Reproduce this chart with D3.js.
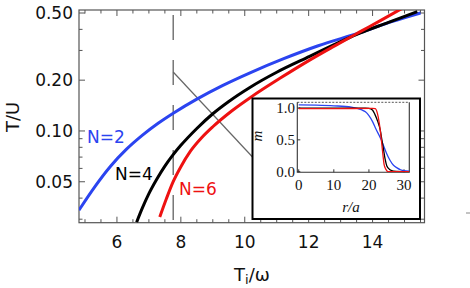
<!DOCTYPE html>
<html><head><meta charset="utf-8">
<script src="https://cdn.jsdelivr.net/npm/d3@7"></script>
<style>body{margin:0;background:#fff}svg{display:block}</style>
</head><body>
<script>
// ---- Main panel data: T/U versus Ti/omega ----
const tiN2 = [4.81, 5.3, 5.8, 6.3, 6.8, 7.3, 7.8, 8.5, 9.3, 10.2, 11.2, 12.3, 13.6, 14.6, 15.5];
const tuN2 = [0.0339, 0.0465, 0.0618, 0.0780, 0.0945, 0.1115, 0.1288, 0.1545, 0.1858, 0.2228, 0.2673, 0.3199, 0.382, 0.4446, 0.500];
const tiN4 = [6.616, 6.8, 7.0, 7.25, 7.5, 7.76, 8.0, 8.5, 9.0, 9.5, 10.16, 11.0, 12.03, 13.0, 13.6, 14.5, 15.4];
const tuN4 = [0.0288, 0.0351, 0.0425, 0.0519, 0.0619, 0.0724, 0.0822, 0.1035, 0.1265, 0.1496, 0.1811, 0.2228, 0.2767, 0.338, 0.380, 0.440, 0.510];
const tiN6 = [7.34, 7.55, 7.76, 8.0, 8.3, 8.65, 9.0, 9.6, 10.25, 11.1, 12.03, 12.8, 13.6, 14.3, 14.94];
const tuN6 = [0.0309, 0.0398, 0.0501, 0.0614, 0.0759, 0.0912, 0.1059, 0.1318, 0.1614, 0.2051, 0.2630, 0.3184, 0.3864, 0.4571, 0.5346];
const xMajor = [6, 8, 10, 12, 14];
const yMajor = [0.05, 0.10, 0.20, 0.50];
const yMinor = [0.03, 0.04, 0.06, 0.07, 0.08, 0.09, 0.3, 0.4];
const yLabels = ["0.05", "0.10", "0.20", "0.50"];
const markTi = 7.76;
// ---- Inset data: m versus r/a ----
const rN2 = [0, 5, 10, 15, 18, 19, 20, 21, 22, 23, 23.5, 24, 25, 26, 27, 28, 29, 30, 31.5];
const mN2 = [1.05, 1.045, 1.035, 1.015, 0.97, 0.94, 0.88, 0.79, 0.67, 0.56, 0.50, 0.43, 0.29, 0.18, 0.10, 0.06, 0.03, 0.015, 0.01];
const rN4 = [0, 10, 19, 20, 21, 21.7, 22.5, 23.2, 23.7, 24.1, 24.6, 25.1, 26, 27, 31.5];
const mN4 = [1.0, 1.0, 1.0, 0.995, 0.97, 0.9, 0.79, 0.66, 0.5, 0.37, 0.2, 0.09, 0.03, 0.01, 0.0];
const rN6 = [0, 10, 21, 21.8, 22.4, 22.9, 23.3, 23.6, 24.0, 24.3, 24.8, 25.5, 31.5];
const mN6 = [0.99, 0.99, 0.995, 0.99, 0.92, 0.78, 0.62, 0.47, 0.26, 0.12, 0.04, 0.0, 0.0];
const insetXTicks = [0, 10, 20, 30];
const insetYTicks = [0, 0.5, 1.0];
const insetYLabels = ["0.0", "0.5", "1.0"];

const W = 470, H = 288;
const svg = d3.select("body").append("svg").attr("width", W).attr("height", H);
svg.append("rect").attr("width", W).attr("height", H).attr("fill", "#fff");

const L = 79, R = 424.5, T = 10, B = 222.7;
const x = d3.scaleLinear().domain([4.8125, 15.625]).range([L, R]);
const y = d3.scaleLog().domain([0.0286, 0.521]).range([B, T]);
const axisCol = "#555";
const sans = "DejaVu Sans";

// clip
svg.append("clipPath").attr("id", "mclip").append("rect")
  .attr("x", L).attr("y", T).attr("width", R - L).attr("height", B - T);

// frame
svg.append("rect").attr("x", L).attr("y", T).attr("width", R - L).attr("height", B - T)
  .attr("fill", "none").attr("stroke", axisCol).attr("stroke-width", 1.2);

const tickG = svg.append("g").attr("stroke", axisCol).attr("stroke-width", 1);
const xMinor = d3.range(5, 15.6, 0.5).filter(v => !xMajor.includes(v));
xMajor.forEach(v => {
  tickG.append("line").attr("x1", x(v)).attr("x2", x(v)).attr("y1", B).attr("y2", B - 6);
  tickG.append("line").attr("x1", x(v)).attr("x2", x(v)).attr("y1", T).attr("y2", T + 6);
});
xMinor.forEach(v => {
  tickG.append("line").attr("x1", x(v)).attr("x2", x(v)).attr("y1", B).attr("y2", B - 3.5);
  tickG.append("line").attr("x1", x(v)).attr("x2", x(v)).attr("y1", T).attr("y2", T + 3.5);
});
yMajor.forEach(v => {
  tickG.append("line").attr("x1", L).attr("x2", L + 6).attr("y1", y(v)).attr("y2", y(v));
  tickG.append("line").attr("x1", R).attr("x2", R - 6).attr("y1", y(v)).attr("y2", y(v));
});
yMinor.forEach(v => {
  tickG.append("line").attr("x1", L).attr("x2", L + 3.5).attr("y1", y(v)).attr("y2", y(v));
  tickG.append("line").attr("x1", R).attr("x2", R - 3.5).attr("y1", y(v)).attr("y2", y(v));
});

// tick labels
svg.append("g").selectAll("text").data(xMajor).join("text")
  .attr("x", d => x(d)).attr("y", 248).attr("text-anchor", "middle")
  .attr("font-family", sans).attr("font-size", 17).attr("fill", "#111").text(d => d);
svg.append("g").selectAll("text").data(yMajor).join("text")
  .attr("x", 73).attr("y", d => y(d)).attr("dy", "0.36em").attr("text-anchor", "end")
  .attr("font-family", sans).attr("font-size", 17).attr("fill", "#111").text((d, i) => yLabels[i]);

// axis titles
const xt = svg.append("text").attr("x", 252).attr("y", 281).attr("text-anchor", "middle")
  .attr("font-family", sans).attr("font-size", 18).attr("fill", "#111");
xt.append("tspan").text("T");
xt.append("tspan").attr("font-size", 13).attr("dy", 3).text("i");
xt.append("tspan").attr("dy", -3).text("/ω");
svg.append("text").attr("transform", "translate(19,117) rotate(-90)").attr("text-anchor", "middle")
  .attr("font-family", sans).attr("font-size", 18).attr("fill", "#111").text("T/U");

// dashed marker line and connector
svg.append("line").attr("x1", x(markTi)).attr("x2", x(markTi)).attr("y1", 15).attr("y2", B)
  .attr("stroke", "#555").attr("stroke-width", 1.2).attr("stroke-dasharray", "25,20");
svg.append("line").attr("x1", x(markTi)).attr("y1", 72).attr("x2", 252.5).attr("y2", 157)
  .attr("stroke", "#666").attr("stroke-width", 1.2);

// curves
const mainLine = d3.line().x(d => x(d[0])).y(d => y(d[1])).curve(d3.curveMonotoneX);
const cg = svg.append("g").attr("clip-path", "url(#mclip)");
const series = [
  {ti: tiN2, tu: tuN2, c: "#2b44f0"},
  {ti: tiN4, tu: tuN4, c: "#000"},
  {ti: tiN6, tu: tuN6, c: "#ee1111"}
];
series.forEach(s => {
  cg.append("path").datum(s.ti.map((v, i) => [v, s.tu[i]])).attr("d", mainLine)
    .attr("fill", "none").attr("stroke", s.c).attr("stroke-width", 3);
});

// series labels
svg.append("text").attr("x", 87).attr("y", 143).attr("font-family", sans).attr("font-size", 17)
  .attr("fill", "#2b44f0").text("N=2");
svg.append("text").attr("x", 115).attr("y", 180).attr("font-family", sans).attr("font-size", 17)
  .attr("fill", "#000").text("N=4");
svg.append("text").attr("x", 179).attr("y", 195).attr("font-family", sans).attr("font-size", 17)
  .attr("fill", "#ee1111").text("N=6");

// ---- inset ----
svg.append("rect").attr("x", 252.5).attr("y", 98.5).attr("width", 167.5).attr("height", 120.5)
  .attr("fill", "#fff").attr("stroke", "#000").attr("stroke-width", 2);
const iL = 297.3, iR = 409.3, iT = 102.3, iB = 172.3;
const ix = d3.scaleLinear().domain([-0.4, 31.5]).range([iL, iR]);
const iy = d3.scaleLinear().domain([-0.01, 1.09]).range([iB, iT]);
const serif = "Liberation Serif";
svg.append("clipPath").attr("id", "iclip").append("rect")
  .attr("x", iL).attr("y", iT).attr("width", iR - iL).attr("height", iB - iT);
const ig = svg.append("g");
ig.append("line").attr("x1", iL).attr("x2", iR).attr("y1", iT).attr("y2", iT)
  .attr("stroke", "#555").attr("stroke-width", 1).attr("stroke-dasharray", "2,1.5");
ig.append("polyline").attr("points", `${iL},${iT} ${iL},${iB} ${iR},${iB} ${iR},${iT}`)
  .attr("fill", "none").attr("stroke", "#333").attr("stroke-width", 1.1);
insetXTicks.forEach(v => {
  ig.append("line").attr("x1", ix(v)).attr("x2", ix(v)).attr("y1", iB).attr("y2", iB - 3)
    .attr("stroke", "#333");
});
insetYTicks.forEach(v => {
  ig.append("line").attr("x1", iL).attr("x2", iL + 3).attr("y1", iy(v)).attr("y2", iy(v))
    .attr("stroke", "#333");
});
ig.selectAll("text.xl").data(insetXTicks).join("text").attr("class", "xl")
  .attr("x", d => ix(d)).attr("y", 190).attr("text-anchor", "middle")
  .attr("font-family", serif).attr("font-size", 15).attr("fill", "#111").text(d => d);
ig.selectAll("text.yl").data(insetYTicks).join("text").attr("class", "yl")
  .attr("x", 295).attr("y", d => iy(d)).attr("dy", "0.34em").attr("text-anchor", "end")
  .attr("font-family", serif).attr("font-size", 15).attr("fill", "#111").text((d, i) => insetYLabels[i]);
ig.append("text").attr("x", 351).attr("y", 212).attr("text-anchor", "middle")
  .attr("font-family", serif).attr("font-style", "italic").attr("font-size", 15).attr("fill", "#111").text("r/a");
ig.append("text").attr("transform", "translate(262,136) rotate(-90)").attr("text-anchor", "middle")
  .attr("font-family", serif).attr("font-style", "italic").attr("font-size", 15).attr("fill", "#111").text("m");
const iline = d3.line().x(d => ix(d[0])).y(d => iy(d[1])).curve(d3.curveMonotoneX);
const icg = svg.append("g").attr("clip-path", "url(#iclip)");
[
  {r: rN2, m: mN2, c: "#2b44f0"},
  {r: rN4, m: mN4, c: "#000"},
  {r: rN6, m: mN6, c: "#ee1111"}
].forEach(s => {
  icg.append("path").datum(s.r.map((v, i) => [v, s.m[i]])).attr("d", iline)
    .attr("fill", "none").attr("stroke", s.c).attr("stroke-width", 1.3);
});

// small stray mark at right edge
svg.append("line").attr("x1", 466).attr("x2", 470).attr("y1", 213).attr("y2", 213)
  .attr("stroke", "#888").attr("stroke-width", 1);
</script>
</body></html>
